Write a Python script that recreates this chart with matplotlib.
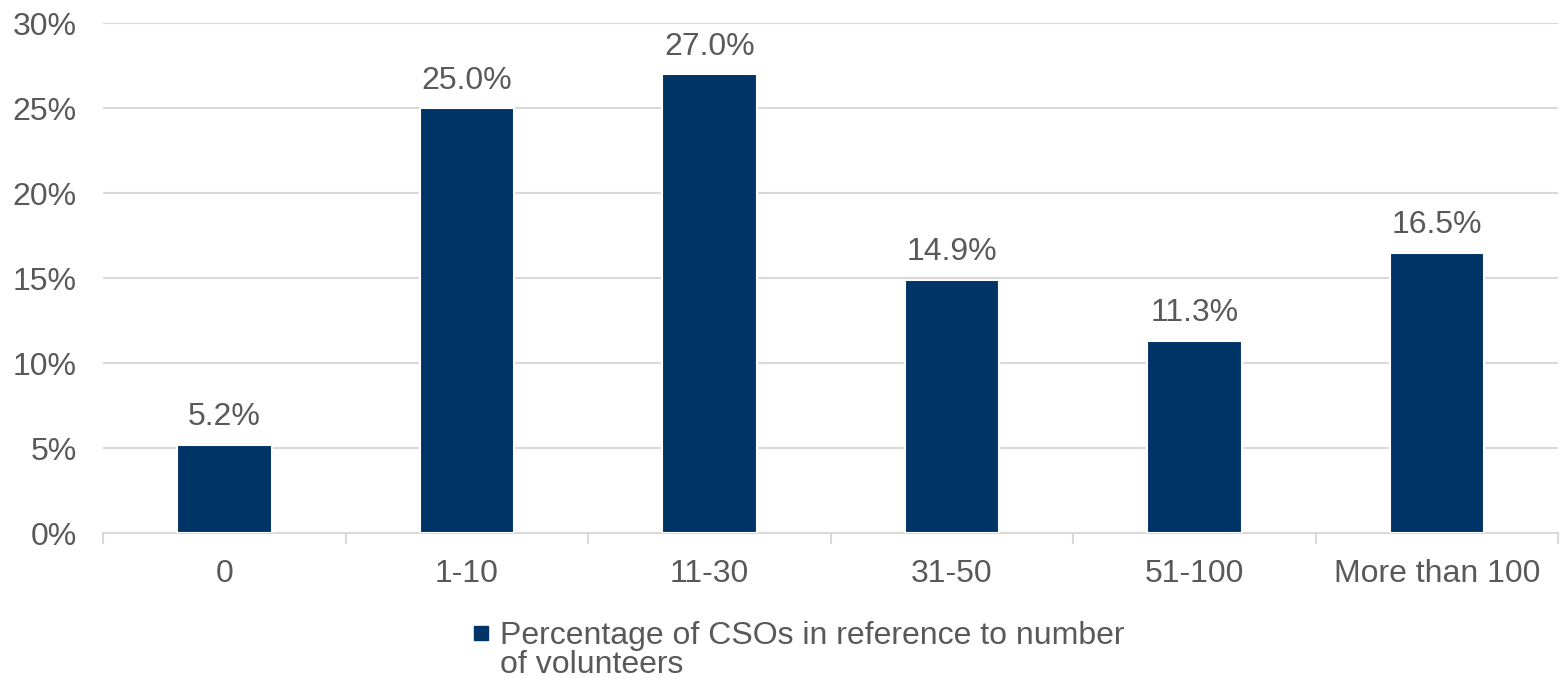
import matplotlib.pyplot as plt
from matplotlib.lines import Line2D
from matplotlib.ticker import FuncFormatter, FixedLocator

plt.rcParams['font.family'] = ['Liberation Sans', 'DejaVu Sans']

# Данные
categories = ['0', '1-10', '11-30', '31-50', '51-100', 'More than 100']
values = [5.2, 25.0, 27.0, 14.9, 11.3, 16.5]
series_lines = ['Percentage of CSOs in reference to number', 'of volunteers']

BAR_COLOR = '#003366'
TEXT_COLOR = '#595959'
GRID_COLOR = '#d9d9d9'

fig = plt.figure(figsize=(15.6, 6.79), dpi=100)
ax = fig.add_axes([0.066, 0.215, 0.933, 0.751])

x = list(range(len(categories)))
bars = ax.bar(x, values, width=0.39, color=BAR_COLOR, edgecolor='white',
              linewidth=1.5, zorder=3)

for b, v in zip(bars, values):
    ax.annotate(f'{v:.1f}%', (b.get_x() + b.get_width() / 2, v),
                xytext=(0, 9), textcoords='offset points',
                ha='center', va='bottom', fontsize=23, color=TEXT_COLOR)

ax.set_ylim(0, 30)
ax.set_xlim(-0.5, len(categories) - 0.5)
ax.set_yticks(range(0, 31, 5))
ax.yaxis.set_major_formatter(FuncFormatter(lambda v, p: f'{v:.0f}%'))
ax.yaxis.grid(True, color=GRID_COLOR, linewidth=1.5, zorder=0)
ax.set_axisbelow(True)

# Подписи категорий и деления между ними
ax.set_xticks(x)
ax.set_xticklabels(categories)
ax.xaxis.set_minor_locator(FixedLocator([i - 0.5 for i in range(len(categories) + 1)]))
ax.tick_params(axis='x', which='major', length=0, pad=19, labelsize=23, labelcolor=TEXT_COLOR)
ax.tick_params(axis='x', which='minor', length=8, width=1.5, color=GRID_COLOR)
ax.tick_params(axis='y', length=0, pad=19, labelsize=23, labelcolor=TEXT_COLOR)

for s in ['top', 'right', 'left']:
    ax.spines[s].set_visible(False)
ax.spines['bottom'].set_color(GRID_COLOR)
ax.spines['bottom'].set_linewidth(1.5)

# Легенда: маркер у первой строки, вторая строка отдельным текстом
handle = Line2D([], [], marker='s', linestyle='none', markersize=10,
                markerfacecolor=BAR_COLOR, markeredgecolor=BAR_COLOR)
leg = fig.legend([handle], [series_lines[0]], loc='center left',
                 bbox_to_anchor=(0.302, 1 - 636 / 679), frameon=False,
                 fontsize=23, labelcolor=TEXT_COLOR, handlelength=0.6,
                 handletextpad=0.3, borderaxespad=0, borderpad=0)
fig.canvas.draw()
bb = leg.get_texts()[0].get_window_extent().transformed(fig.transFigure.inverted())
fig.text(bb.x0, 1 - 665 / 679, series_lines[1], ha='left', va='center',
         fontsize=23, color=TEXT_COLOR)

plt.savefig('out.png', dpi=100)
plt.close()
